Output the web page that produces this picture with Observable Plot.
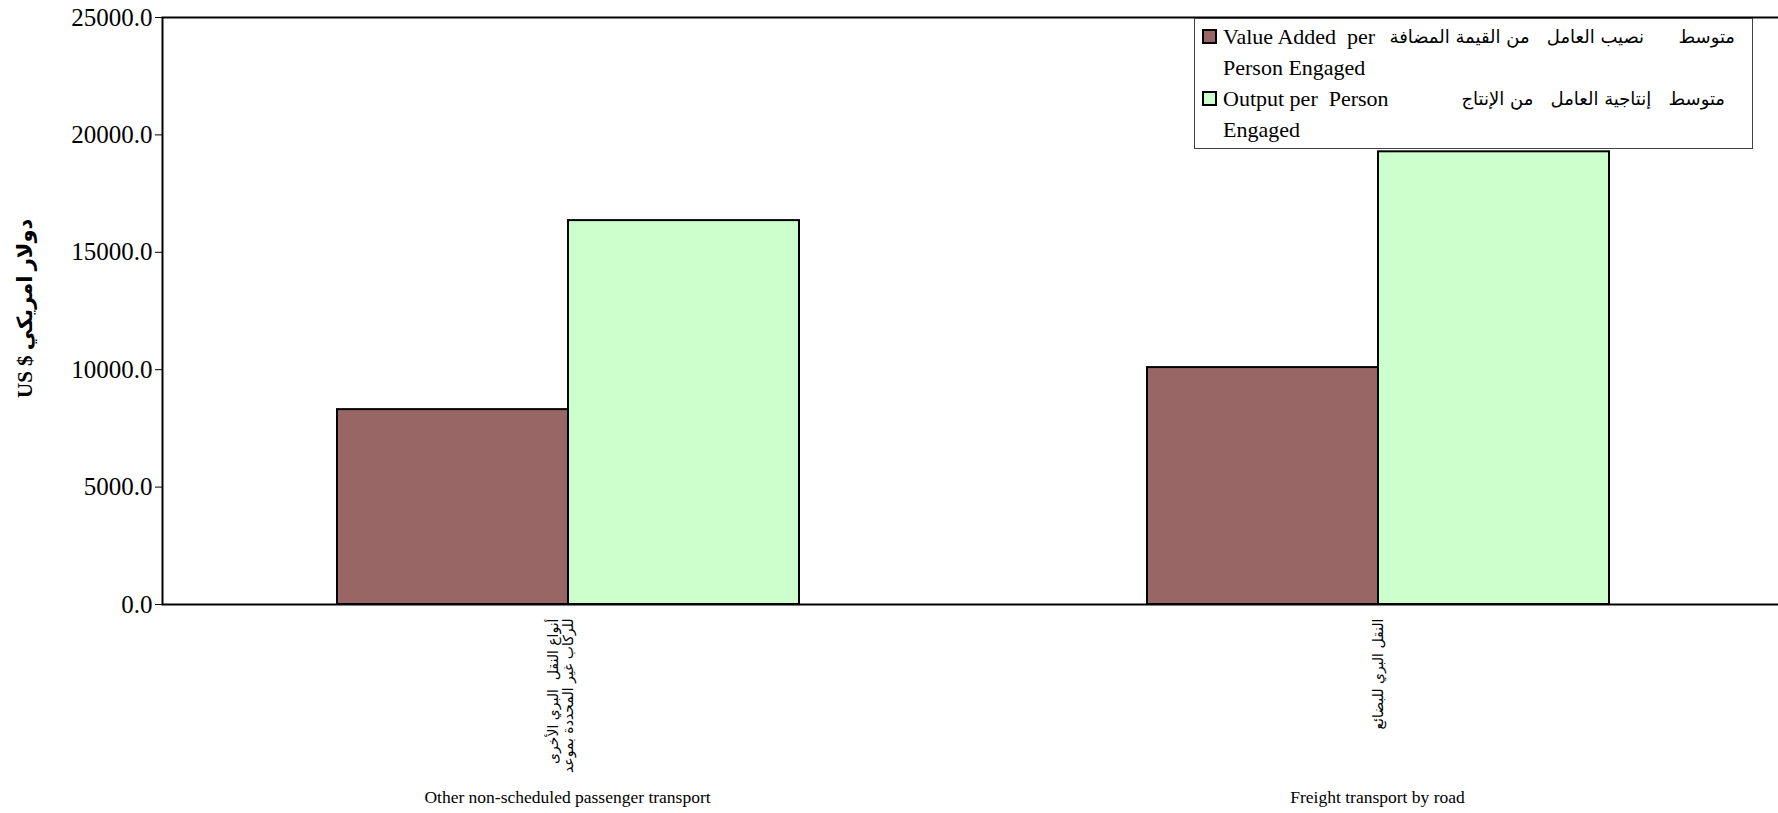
<!DOCTYPE html>
<html><head><meta charset="utf-8">
<script src="https://cdn.jsdelivr.net/npm/d3@7"></script>
<script src="https://cdn.jsdelivr.net/npm/@observablehq/plot@0.6"></script>
<style>
html,body{margin:0;padding:0;background:#fff;overflow:hidden;}
#wrap{position:relative;width:1778px;height:813px;overflow:hidden;}
#legend{position:absolute;left:1194px;top:18px;width:557px;height:127px;border:1px solid #404040;background:#fff;font-family:"Liberation Serif","DejaVu Sans",serif;font-size:22px;color:#000;padding-top:2px;}
.line{position:relative;height:31px;line-height:31px;white-space:pre;}
.en{position:absolute;left:28px;top:0;}
.ar{position:absolute;top:0;direction:rtl;font-family:"DejaVu Sans",sans-serif;font-size:18px;}
.sw{position:absolute;left:7px;width:11px;height:11px;border:2px solid #000;}
</style></head><body><div id="wrap"></div>
<script>
const categories = ["Other non-scheduled passenger transport", "Freight transport by road"];
const categoriesArabic = [["أنواع النقل  البري الأخرى", "للركاب غير المحددة بموعد"], ["النقل البري للبضائع"]];
const seriesLines = [["Value Added  per", "Person Engaged"], ["Output per  Person", "Engaged"]];
const seriesArabic = ["متوسط      نصيب العامل   من القيمة المضافة", "متوسط   إنتاجية العامل   من الإنتاج"];
const seriesColors = ["#996666", "#CCFFCC"];
const valueAdded = [8300, 10090];
const outputPer = [16350, 19280];
const yTicks = [0, 5000, 10000, 15000, 20000, 25000];
const yLabel = "US $ دولار امريكي";

const rows = categories.map((c, i) => ({cat: c, ar: categoriesArabic[i].join("\n"), va: valueAdded[i], out: outputPer[i]}));

const chart = Plot.plot({
  width: 1782, height: 813,
  marginLeft: 162, marginRight: 0, marginTop: 17, marginBottom: 209,
  style: {fontFamily: '"Liberation Serif","DejaVu Sans",serif', fontSize: "25px", color: "#000", background: "#fff", maxWidth: "none"},
  x: {domain: categories, padding: 0, axis: null},
  y: {domain: [0, 25000], label: null},
  marks: [
    Plot.barY(rows, {x: "cat", y: "va", fill: seriesColors[0], stroke: "#000", strokeWidth: 2, insetLeft: 175, insetRight: 404}),
    Plot.barY(rows, {x: "cat", y: "out", fill: seriesColors[1], stroke: "#000", strokeWidth: 2, insetLeft: 406, insetRight: 173}),
    Plot.frame({stroke: "#000", strokeWidth: 2}),
    Plot.axisY({ticks: yTicks, tickFormat: d => d.toFixed(1), tickSize: 7, tickPadding: 3, fontSize: 25, label: null, stroke: "#000"}),
    Plot.text([yLabel], {text: d => d, frameAnchor: "left", textAnchor: "start", dx: -137, dy: 87, rotate: -90, fontWeight: "bold", fontSize: 21}),
    Plot.text(rows, {x: "cat", text: "ar", frameAnchor: "bottom", rotate: -90, textAnchor: "end", lineAnchor: "bottom", lineHeight: 1.05, dx: 5, dy: 14, fontSize: 14, fontFamily: "DejaVu Sans"}),
    Plot.text(rows, {x: "cat", text: "cat", frameAnchor: "bottom", dy: 198, fontSize: 17.5})
  ]
});
const wrap = document.getElementById("wrap");
wrap.appendChild(chart);

const legend = document.createElement("div");
legend.id = "legend";
const arRight = [17, 27];
seriesLines.forEach((lines, i) => {
  lines.forEach((t, j) => {
    const line = document.createElement("div");
    line.className = "line";
    const en = document.createElement("span");
    en.className = "en"; en.textContent = t;
    line.appendChild(en);
    if (j === 0) {
      const sw = document.createElement("span");
      sw.className = "sw"; sw.style.top = "8px"; sw.style.background = seriesColors[i];
      line.appendChild(sw);
      const ar = document.createElement("span");
      ar.className = "ar"; ar.style.right = arRight[i] + "px"; ar.textContent = seriesArabic[i];
      line.appendChild(ar);
    }
    legend.appendChild(line);
  });
});
wrap.appendChild(legend);
</script></body></html>
